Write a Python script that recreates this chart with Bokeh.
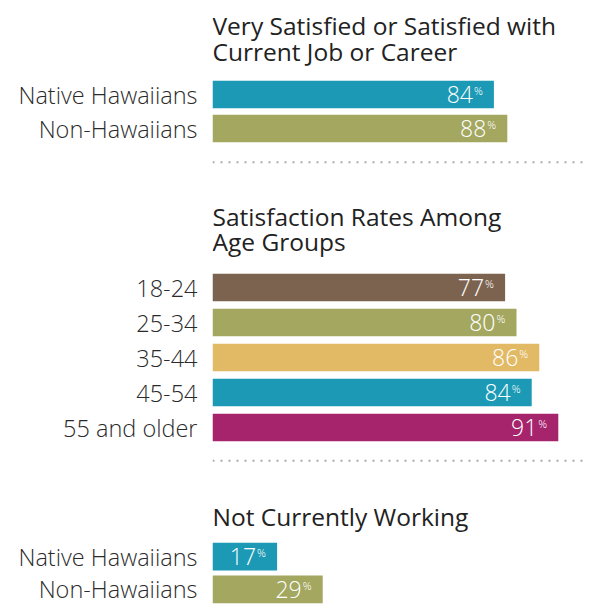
from bokeh.plotting import figure
from bokeh.models import Range1d, FixedTicker, Label, Span, ColumnDataSource
from bokeh.layouts import column
from bokeh.embed import file_html
from bokeh.resources import INLINE
from bokeh.core.properties import value

# ---- data ----
sat_groups = ["Native Hawaiians", "Non-Hawaiians"]
sat_values = [84, 88]
sat_title = ["Very Satisfied or Satisfied with", "Current Job or Career"]

age_groups = ["18-24", "25-34", "35-44", "45-54", "55 and older"]
age_values = [77, 80, 86, 84, 91]
age_title = ["Satisfaction Rates Among", "Age Groups"]

nw_groups = ["Native Hawaiians", "Non-Hawaiians"]
nw_values = [17, 29]
nw_title = ["Not Currently Working"]

# ---- styles ----
TEAL = "#1b99b5"
OLIVE = "#a3a75f"
BROWN = "#7c6350"
GOLD = "#e2b964"
MAGENTA = "#a5246c"
sat_colors = [TEAL, OLIVE]
age_colors = [BROWN, OLIVE, GOLD, TEAL, MAGENTA]
nw_colors = [TEAL, OLIVE]

FONT = "Open Sans"
LIGHT = "Open Sans Light, Open Sans"
W = 591
LEFT = 212
RIGHT = 6


def section(groups, values, colors, titles, height, first_center, pitch,
            px_per_pct, bar_frac, title_centers, sep_px=None):
    frame_w = W - LEFT - RIGHT
    rows = list(range(len(groups)))
    p = figure(width=W, height=height, output_backend="svg", toolbar_location=None,
               x_range=Range1d(0, frame_w / px_per_pct),
               y_range=Range1d((height - first_center) / pitch, -first_center / pitch),
               x_axis_location=None)
    p.min_border_left = LEFT
    p.min_border_right = RIGHT
    p.min_border_top = 0
    p.min_border_bottom = 0
    p.outline_line_color = None
    p.xgrid.visible = False
    p.ygrid.visible = False

    ax = p.yaxis[0]
    ax.ticker = FixedTicker(ticks=rows)
    ax.major_label_overrides = {i: g for i, g in enumerate(groups)}
    ax.axis_line_color = None
    ax.major_tick_line_color = None
    ax.minor_tick_line_color = None
    ax.major_tick_out = 0
    ax.major_tick_in = 0
    ax.major_label_standoff = 15
    ax.major_label_text_font_size = "23.5px"
    ax.major_label_text_font = LIGHT
    ax.major_label_text_color = "#2a2a2a"

    src = ColumnDataSource(dict(
        row=rows, value=values, color=colors,
        label=[str(v) for v in values], pct=["%"] * len(values)))
    p.hbar(y="row", left=0, right="value", height=bar_frac, fill_color="color",
           line_color=None, source=src)
    p.text(x="value", y="row", text="label", source=src, text_align="right",
           text_baseline="middle", x_offset=-21, y_offset=0,
           text_font_size="23px", text_color="white", text_font=value(LIGHT))
    p.text(x="value", y="row", text="pct", source=src, text_align="left",
           text_baseline="middle", x_offset=-20, y_offset=-4,
           text_font_size="11px", text_color="white", text_font=value(LIGHT))

    for line, yc in zip(titles, title_centers):
        p.add_layout(Label(x=0, y=(yc - first_center) / pitch, text=line,
                           text_font_size="24.5px", text_baseline="middle",
                           text_align="left", text_color="#222222", text_font=FONT))
    if sep_px is not None:
        p.add_layout(Span(location=(sep_px - first_center) / pitch, dimension="width",
                          line_color="#aaaaaa", line_width=2, line_dash="2 6"))
    return p


f1 = section(sat_groups, sat_values, sat_colors, sat_title, 185, 94, 34, 3.35, 0.815,
             [25, 50.5], 161.7)
f2 = section(age_groups, age_values, age_colors, age_title, 300, 102, 35, 3.8, 0.78,
             [31.3, 56.3], 275.3)
f3 = section(nw_groups, nw_values, nw_colors, nw_title, 120, 71.2, 32.7, 3.8, 0.847,
             [31.3])

layout = column(f1, f2, f3, spacing=0)
open("out.html", "w").write(file_html(layout, INLINE))
